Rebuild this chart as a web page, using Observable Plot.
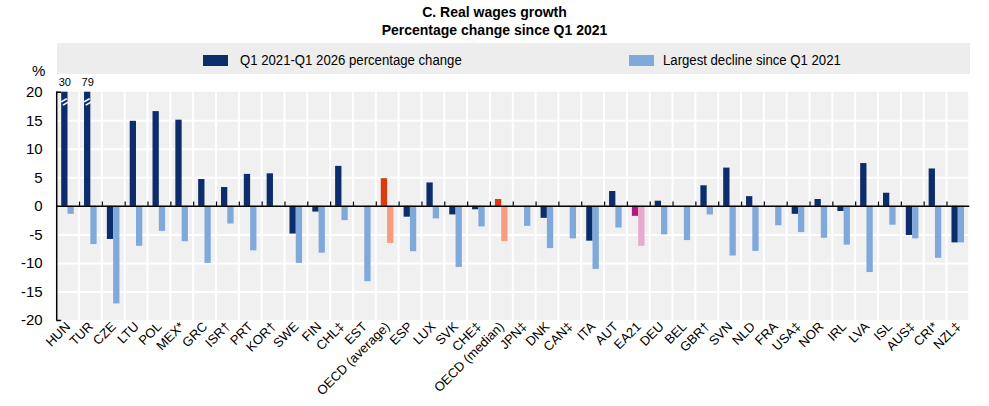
<!DOCTYPE html>
<html>
<head>
<meta charset="utf-8">
<script src="https://cdn.jsdelivr.net/npm/d3@7"></script>
<script src="https://cdn.jsdelivr.net/npm/@observablehq/plot@0.6"></script>
<style>
  body { margin: 0; background: white; }
  #wrap { position: relative; width: 989px; height: 406px; font-family: "Liberation Sans", Arial, sans-serif; color: #000; }
  .title { position: absolute; left: 0; width: 989px; text-align: center; font-weight: bold; font-size: 14px; line-height: 18px; }
  #legend { position: absolute; left: 57px; top: 43px; width: 913px; height: 31px; background: #ededed; }
  .sw { position: absolute; top: 55px; width: 25px; height: 11px; }
  .lt { position: absolute; top: 52px; font-size: 14px; line-height: 17px; white-space: nowrap; transform: scaleX(0.94); transform-origin: left center; }
  #pct { position: absolute; left: 32px; top: 62px; font-size: 15px; }
  #chart { position: absolute; left: 0; top: 74px; }
</style>
</head>
<body>
<div id="wrap">
  <div class="title" style="top:3px">C. Real wages growth</div>
  <div class="title" style="top:21px">Percentage change since Q1 2021</div>
  <div id="legend"></div>
  <div class="sw" style="left:203px;background:#0b2d6b"></div>
  <div class="lt" style="left:240px">Q1 2021-Q1 2026 percentage change</div>
  <div class="sw" style="left:629px;background:#80a9db"></div>
  <div class="lt" style="left:663px">Largest decline since Q1 2021</div>
  <div id="pct">%</div>
  <div id="chart"></div>
</div>
<script>
const categories = ["HUN","TUR","CZE","LTU","POL","MEX*","GRC","ISR†","PRT","KOR†","SWE","FIN","CHL‡","EST","OECD (average)","ESP","LUX","SVK","CHE‡","OECD (median)","JPN‡","DNK","CAN‡","ITA","AUT","EA21","DEU","BEL","GBR†","SVN","NLD","FRA","USA‡","NOR","IRL","LVA","ISL","AUS‡","CRI*","NZL‡"];
const change = [30, 79, -5.8, 14.9, 16.6, 15.1, 4.7, 3.3, 5.6, 5.7, -4.85, -1.0, 7.0, null, 4.85, -1.9, 4.1, -1.5, -0.6, 1.2, null, -2.1, null, -6.1, 2.6, -1.75, 0.9, null, 3.6, 6.7, 1.7, null, -1.4, 1.2, -0.9, 7.5, 2.3, -5.1, 6.55, -6.4];
const decline = [-1.4, -6.7, -17.1, -7.0, -4.4, -6.2, -10.0, -3.1, -7.8, 0, -10.0, -8.2, -2.5, -13.2, -6.5, -7.95, -2.2, -10.7, -3.6, -6.2, -3.5, -7.4, -5.7, -11.05, -3.8, -7.0, -5.0, -6.0, -1.5, -8.7, -7.9, -3.4, -4.6, -5.6, -6.8, -11.6, -3.3, -5.7, -9.1, -6.4];
const yTicks = [-20, -15, -10, -5, 0, 5, 10, 15, 20];
const axisMax = 20;

const darkColor = c => c.startsWith("OECD") ? "#dc3a0c" : c === "EA21" ? "#b5177c" : "#0b2d6b";
const lightColor = c => c.startsWith("OECD") ? "#f89b7f" : c === "EA21" ? "#eaa7cf" : "#80a9db";

const rows = categories.map((c, i) => ({cat: c, change: change[i], decline: decline[i]}));
const shown = rows.filter(d => d.change != null).map(d => ({...d, bar: Math.min(d.change, axisMax)}));
const broken = rows.filter(d => d.change != null && d.change > axisMax);

const bw = (969.3 - 56.2) / categories.length;

const chart = Plot.plot({
  width: 989,
  height: 332,
  marginLeft: 56.2,
  marginRight: 19.7,
  marginTop: 17.7,
  marginBottom: 86,
  style: {fontFamily: '"Liberation Sans", Arial, sans-serif', background: "transparent", overflow: "visible"},
  x: {domain: categories, padding: 0, label: null, tickSize: 0, tickPadding: 4, tickRotate: -45},
  y: {domain: [-20, 20], ticks: yTicks, label: null, tickSize: 0, tickPadding: 14},
  marks: [
    Plot.barY(categories, {x: d => d, y1: -20, y2: 20, fill: "#f0f0f0", insetLeft: 1, insetRight: 1}),
    Plot.ruleY(yTicks.filter(v => v !== 0 && Math.abs(v) !== 20), {stroke: "white", strokeWidth: 2}),
    Plot.barY(shown, {x: "cat", y: "bar", fill: d => darkColor(d.cat), insetLeft: 5, insetRight: bw - 11.3}),
    Plot.barY(rows.filter(d => d.decline != null), {x: "cat", y: "decline", fill: d => lightColor(d.cat), insetLeft: 11.3, insetRight: bw - 17.6}),
    Plot.text(broken, {x: "cat", y: 18.3, text: () => "=", rotate: -30, fill: "white", fontSize: 13, fontWeight: "bold", dx: 8.15 - bw / 2}),
    Plot.text(broken, {x: "cat", y: axisMax, text: d => String(d.change), dy: -10, dx: 8.15 - bw / 2, fontSize: 11, fill: "#000"}),
    Plot.ruleY([0], {stroke: "black", strokeWidth: 1.5}),
    Plot.ruleX(categories.slice(1), {x: d => d, y1: 0, y2: 0.75, dx: -bw / 2, stroke: "black", strokeWidth: 1.2}),
    Plot.ruleX([categories[0]], {x: d => d, y1: -20, y2: 20, dx: -bw / 2, stroke: "black", strokeWidth: 1.5}),
    Plot.tickY([-20, 20], {x: () => categories[0], y: d => d, insetRight: bw - 5, stroke: "black", strokeWidth: 1.5}),
    Plot.axisY({ticks: yTicks, tickSize: 0, tickPadding: 14, fontSize: 15, tickFormat: d => String(d)}),
    Plot.axisX({tickSize: 0, tickPadding: 4, tickRotate: -45, fontSize: 13})
  ]
});
document.getElementById("chart").appendChild(chart);
</script>
</body>
</html>
